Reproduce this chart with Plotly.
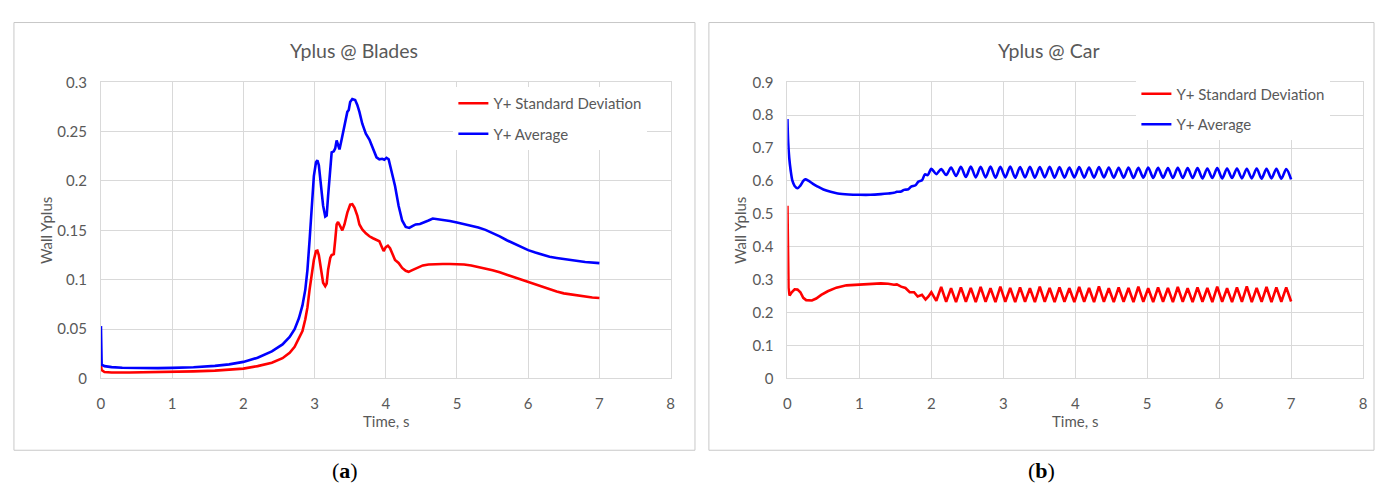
import plotly.graph_objects as go

W, H = 1380, 491

# ---------------- data ----------------
BLADE_AVG_T = [0.000, 0.010, 0.05, 0.15, 0.30, 0.50, 0.80, 1.00, 1.30, 1.60, 1.80, 2.00, 2.20, 2.40,
               2.55, 2.65, 2.72, 2.78, 2.83, 2.87, 2.90, 2.93, 2.96, 2.99, 3.02, 3.04, 3.06, 3.09,
               3.12, 3.15, 3.17, 3.19, 3.22, 3.24, 3.27, 3.29, 3.31, 3.33, 3.35, 3.38, 3.42, 3.46,
               3.48, 3.50, 3.53, 3.57, 3.60, 3.63, 3.67, 3.72, 3.77, 3.82, 3.87, 3.91, 3.95, 3.98,
               4.01, 4.04, 4.08, 4.13, 4.18, 4.23, 4.28, 4.33, 4.38, 4.42, 4.48, 4.54, 4.60, 4.66,
               4.72, 4.80, 4.90, 5.00, 5.10, 5.20, 5.30, 5.40, 5.50, 5.60, 5.70, 5.80, 5.90, 6.00,
               6.10, 6.20, 6.30, 6.40, 6.50, 6.60, 6.70, 6.80, 6.90, 7.00]
BLADE_AVG = [0.053, 0.014, 0.0125, 0.0115, 0.0108, 0.0105, 0.0105, 0.0107, 0.0113, 0.0128, 0.0143,
             0.0168, 0.0210, 0.0275, 0.0345, 0.0420, 0.0500, 0.0610, 0.0740, 0.0900, 0.1100, 0.1400,
             0.1750, 0.2050, 0.2190, 0.2210, 0.2160, 0.1950, 0.1750, 0.1640, 0.1650, 0.1850, 0.2150,
             0.2290, 0.2300, 0.2330, 0.2410, 0.2360, 0.2320, 0.2420, 0.2580, 0.2700, 0.2720, 0.2800,
             0.2830, 0.2820, 0.2770, 0.2700, 0.2580, 0.2480, 0.2420, 0.2330, 0.2240, 0.2220, 0.2225,
             0.2215, 0.2235, 0.2220, 0.2100, 0.1950, 0.1750, 0.1600, 0.1535, 0.1525, 0.1545, 0.1560,
             0.1565, 0.1580, 0.1600, 0.1620, 0.1615, 0.1605, 0.1595, 0.1580, 0.1565, 0.1550, 0.1530,
             0.1505, 0.1475, 0.1440, 0.1400, 0.1365, 0.1330, 0.1300, 0.1275, 0.1250, 0.1232, 0.1220,
             0.1208, 0.1198, 0.1189, 0.1180, 0.1172, 0.1168]

BLADE_STD_T = [0.000, 0.010, 0.05, 0.15, 0.40, 0.80, 1.00, 1.30, 1.60, 1.80, 2.00, 2.20, 2.40, 2.55,
               2.65, 2.72, 2.78, 2.83, 2.87, 2.90, 2.93, 2.96, 2.99, 3.02, 3.04, 3.06, 3.09, 3.12,
               3.15, 3.17, 3.19, 3.22, 3.24, 3.27, 3.29, 3.31, 3.33, 3.36, 3.39, 3.42, 3.46, 3.50,
               3.53, 3.56, 3.60, 3.63, 3.67, 3.72, 3.77, 3.82, 3.87, 3.91, 3.94, 3.97, 4.00, 4.03,
               4.06, 4.09, 4.13, 4.18, 4.23, 4.28, 4.32, 4.38, 4.45, 4.52, 4.60, 4.70, 4.80, 4.90,
               5.00, 5.10, 5.20, 5.30, 5.40, 5.50, 5.60, 5.70, 5.80, 5.90, 6.00, 6.10, 6.20, 6.30,
               6.40, 6.50, 6.60, 6.70, 6.80, 6.90, 7.00]
BLADE_STD = [0.0135, 0.0085, 0.0065, 0.0060, 0.0060, 0.0064, 0.0067, 0.0072, 0.0080, 0.0088, 0.0100,
             0.0125, 0.0160, 0.0205, 0.0260, 0.0320, 0.0400, 0.0480, 0.0600, 0.0720, 0.0900, 0.1060,
             0.1200, 0.1290, 0.1295, 0.1250, 0.1100, 0.0970, 0.0935, 0.0960, 0.1100, 0.1220, 0.1250,
             0.1260, 0.1400, 0.1560, 0.1585, 0.1540, 0.1500, 0.1560, 0.1680, 0.1760, 0.1765, 0.1730,
             0.1650, 0.1560, 0.1510, 0.1470, 0.1440, 0.1420, 0.1400, 0.1390, 0.1340, 0.1290, 0.1330,
             0.1345, 0.1320, 0.1260, 0.1200, 0.1170, 0.1120, 0.1090, 0.1080, 0.1100, 0.1125, 0.1145,
             0.1155, 0.1160, 0.1160, 0.1160, 0.1160, 0.1155, 0.1145, 0.1130, 0.1115, 0.1095, 0.1075,
             0.1050, 0.1025, 0.1000, 0.0975, 0.0950, 0.0925, 0.0900, 0.0880, 0.0862, 0.0850, 0.0838,
             0.0828, 0.0820, 0.0815]

# Car: start-up part
CAR_AVG_T0 = [0.000, 0.010, 0.025, 0.045, 0.070, 0.100, 0.140, 0.180, 0.220, 0.250, 0.290, 0.350,
              0.420, 0.500, 0.600, 0.700, 0.850, 1.000, 1.150, 1.300, 1.400, 1.480, 1.520, 1.580,
              1.620, 1.680, 1.720, 1.780, 1.820, 1.870, 1.910, 1.950]
CAR_AVG_0 = [0.788, 0.720, 0.670, 0.632, 0.600, 0.585, 0.578, 0.586, 0.600, 0.605, 0.601, 0.592,
             0.583, 0.574, 0.567, 0.562, 0.559, 0.558, 0.558, 0.560, 0.562, 0.564, 0.567, 0.568,
             0.573, 0.575, 0.583, 0.587, 0.598, 0.602, 0.620, 0.618]
CAR_STD_T0 = [0.000, 0.008, 0.015, 0.030, 0.060, 0.100, 0.140, 0.180, 0.220, 0.260, 0.340, 0.400,
              0.470, 0.560, 0.680, 0.820, 1.000, 1.150, 1.300, 1.400, 1.480, 1.520, 1.580, 1.640,
              1.700, 1.760, 1.810, 1.870, 1.920, 1.960]
CAR_STD_0 = [0.525, 0.400, 0.275, 0.252, 0.262, 0.271, 0.270, 0.262, 0.245, 0.238, 0.237, 0.243,
             0.254, 0.265, 0.276, 0.283, 0.286, 0.288, 0.289, 0.288, 0.285, 0.286, 0.279, 0.275,
             0.262, 0.262, 0.249, 0.254, 0.240, 0.249]

# Car: oscillating part (peaks / troughs)
CAR_OSC_T = [2.000, 2.069, 2.137, 2.206, 2.274, 2.343, 2.411, 2.480, 2.548, 2.617, 2.685, 2.754,
             2.822, 2.891, 2.959, 3.028, 3.096, 3.165, 3.233, 3.302, 3.370, 3.439, 3.507, 3.576,
             3.644, 3.713, 3.781, 3.850, 3.918, 3.987, 4.055, 4.124, 4.192, 4.261, 4.329, 4.398,
             4.466, 4.535, 4.603, 4.672, 4.740, 4.809, 4.877, 4.946, 5.014, 5.083, 5.151, 5.220,
             5.288, 5.357, 5.425, 5.494, 5.562, 5.631, 5.699, 5.768, 5.836, 5.905, 5.973, 6.042,
             6.110, 6.179, 6.247, 6.316, 6.384, 6.453, 6.521, 6.590, 6.658, 6.727, 6.795, 6.864,
             6.932, 7.000]
CAR_AVG_OSC = [0.637, 0.621, 0.636, 0.618, 0.641, 0.615, 0.643, 0.612, 0.644, 0.611, 0.643, 0.611,
               0.644, 0.610, 0.643, 0.611, 0.644, 0.610, 0.642, 0.611, 0.643, 0.610, 0.642, 0.611,
               0.643, 0.610, 0.642, 0.610, 0.641, 0.611, 0.642, 0.610, 0.641, 0.610, 0.642, 0.611,
               0.641, 0.610, 0.640, 0.610, 0.641, 0.609, 0.640, 0.610, 0.641, 0.609, 0.640, 0.610,
               0.639, 0.609, 0.640, 0.609, 0.639, 0.609, 0.639, 0.608, 0.638, 0.609, 0.639, 0.608,
               0.638, 0.609, 0.638, 0.608, 0.637, 0.608, 0.638, 0.607, 0.637, 0.608, 0.637, 0.607,
               0.636, 0.605]
CAR_STD_OSC = [0.262, 0.236, 0.278, 0.233, 0.274, 0.232, 0.277, 0.233, 0.275, 0.232, 0.278, 0.233,
               0.274, 0.232, 0.279, 0.233, 0.275, 0.232, 0.277, 0.233, 0.274, 0.232, 0.279, 0.233,
               0.275, 0.232, 0.277, 0.233, 0.274, 0.232, 0.278, 0.233, 0.275, 0.232, 0.280, 0.233,
               0.274, 0.232, 0.277, 0.233, 0.275, 0.232, 0.279, 0.233, 0.274, 0.232, 0.277, 0.233,
               0.275, 0.232, 0.278, 0.233, 0.274, 0.232, 0.277, 0.233, 0.275, 0.232, 0.279, 0.233,
               0.274, 0.232, 0.277, 0.233, 0.280, 0.232, 0.275, 0.233, 0.278, 0.232, 0.277, 0.233,
               0.277, 0.234]

SERIES_NAMES = ["Y+ Standard Deviation", "Y+ Average"]
TITLES = ["Yplus @ Blades", "Yplus @ Car"]
X_TITLE = "Time, s"
Y_TITLE = "Wall Yplus"
CAPTIONS = ["(<b>a</b>)", "(<b>b</b>)"]

# ---------------- styling ----------------
RED, BLUE = "#ff0000", "#0000ff"
TXT = "#595959"
GRID = "#d9d9d9"
FONT = "Lato"
FS = 15


def px_x(p):
    return p / W


def px_y(p):
    return 1 - p / H


LEFT_DOM = [px_x(97.5), px_x(670.5)]
RIGHT_DOM = [px_x(788), px_x(1367)]
Y_DOM = [px_y(382.5), px_y(75)]

fig = go.Figure()
lw = 2.6
fig.add_trace(go.Scatter(x=BLADE_STD_T, y=BLADE_STD, name=SERIES_NAMES[0], mode="lines",
                         line=dict(color=RED, width=lw), xaxis="x", yaxis="y",
                         legend="legend", legendgroup="a1"))
fig.add_trace(go.Scatter(x=BLADE_AVG_T, y=BLADE_AVG, name=SERIES_NAMES[1], mode="lines",
                         line=dict(color=BLUE, width=lw), xaxis="x", yaxis="y",
                         legend="legend", legendgroup="a2"))
fig.add_trace(go.Scatter(x=CAR_STD_T0 + CAR_OSC_T, y=CAR_STD_0 + CAR_STD_OSC, name=SERIES_NAMES[0],
                         mode="lines", line=dict(color=RED, width=lw), xaxis="x2", yaxis="y2",
                         legend="legend2", legendgroup="b1"))
fig.add_trace(go.Scatter(x=CAR_AVG_T0 + CAR_OSC_T, y=CAR_AVG_0 + CAR_AVG_OSC, name=SERIES_NAMES[1],
                         mode="lines", line=dict(color=BLUE, width=lw, shape="spline", smoothing=0.8),
                         xaxis="x2", yaxis="y2", legend="legend2", legendgroup="b2"))

axis_common = dict(showgrid=True, gridcolor=GRID, gridwidth=1, zeroline=False,
                   showline=True, linecolor=GRID, linewidth=1, mirror=True, ticks="",
                   tickfont=dict(family=FONT, size=FS, color=TXT))

legend_common = dict(xanchor="left", yanchor="top", bgcolor="white", borderwidth=0,
                     font=dict(family=FONT, size=FS, color=TXT), tracegroupgap=8,
                     traceorder="grouped", itemwidth=30)

fig.update_layout(
    width=W, height=H,
    margin=dict(l=0, r=0, t=0, b=0),
    paper_bgcolor="white", plot_bgcolor="white",
    showlegend=True,
    xaxis=dict(domain=LEFT_DOM, range=[0, 8], dtick=1, anchor="y", ticklabelstandoff=12, **axis_common),
    yaxis=dict(domain=Y_DOM, range=[0, 0.3], dtick=0.05, anchor="x", ticklabelstandoff=10, **axis_common),
    xaxis2=dict(domain=RIGHT_DOM, range=[0, 8], dtick=1, anchor="y2", ticklabelstandoff=12, **axis_common),
    yaxis2=dict(domain=Y_DOM, range=[0, 0.9], dtick=0.1, anchor="x2", ticklabelstandoff=10, **axis_common),
    legend=dict(x=px_x(452), y=px_y(80), **legend_common),
    legend2=dict(x=px_x(1139), y=px_y(70), **legend_common),
)

# panel frames
for x0, x1 in [(10, 695), (709, 1378)]:
    fig.add_shape(type="rect", xref="paper", yref="paper", x0=px_x(x0), x1=px_x(x1),
                  y0=px_y(457), y1=px_y(13), line=dict(color="#c8c8c8", width=1),
                  fillcolor="rgba(0,0,0,0)", layer="below")

ann = []
centers = [(LEFT_DOM[0] + LEFT_DOM[1]) / 2, (RIGHT_DOM[0] + RIGHT_DOM[1]) / 2]
title_x = [px_x(352), px_x(1051)]
ytitle_x = [px_x(43), px_x(741)]
cap_x = [px_x(343), px_x(1044)]
for i in range(2):
    ann.append(dict(text=TITLES[i], x=title_x[i], y=px_y(42), xref="paper", yref="paper",
                    showarrow=False, font=dict(family=FONT, size=19.5, color=TXT),
                    xanchor="center", yanchor="middle"))
    ann.append(dict(text=X_TITLE, x=centers[i], y=px_y(427), xref="paper", yref="paper",
                    showarrow=False, font=dict(family=FONT, size=FS, color=TXT),
                    xanchor="center", yanchor="middle"))
    ann.append(dict(text=Y_TITLE, x=ytitle_x[i], y=(Y_DOM[0] + Y_DOM[1]) / 2, xref="paper",
                    yref="paper", showarrow=False, textangle=-90,
                    font=dict(family=FONT, size=FS, color=TXT), xanchor="center", yanchor="middle"))
    ann.append(dict(text=CAPTIONS[i], x=cap_x[i], y=px_y(478), xref="paper", yref="paper",
                    showarrow=False, font=dict(family="Liberation Serif", size=22, color="#000000"),
                    xanchor="center", yanchor="middle"))
fig.update_layout(annotations=ann)

fig.write_html("out.html")
